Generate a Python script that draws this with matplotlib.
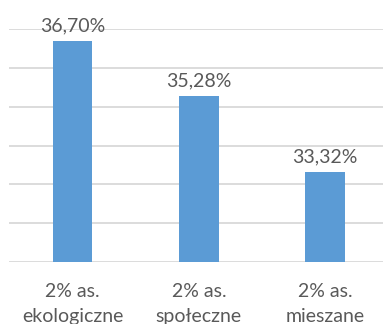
import matplotlib.pyplot as plt
import numpy as np

categories = ["2% as.\nekologiczne", "2% as.\nspołeczne", "2% as.\nmieszane"]
values = [36.70, 35.28, 33.32]
value_labels = ["36,70%", "35,28%", "33,32%"]

BAR = "#5b9bd5"
INK = "#595959"
GRID = "#d9d9d9"

plt.rcParams["font.family"] = ["Lato", "DejaVu Sans"]

fig = plt.figure(figsize=(3.83, 3.24), dpi=100)
ax = fig.add_axes([9.35 / 383, 62.3 / 324, 379 / 383, 232.4 / 324])

x = np.arange(len(values))
ax.bar(x, values, width=0.313, color=BAR, zorder=3)

for xi, v, lab in zip(x, values, value_labels):
    ax.annotate(lab, xy=(xi, v), xytext=(0, 5), textcoords="offset points",
                ha="center", va="bottom", fontsize=14, color=INK)

ax.set_xlim(-0.5, 2.5)
ax.set_ylim(31, 37)
ax.set_yticks(np.arange(31, 38, 1))
ax.yaxis.grid(True, color=GRID, lw=1.3, zorder=0)
ax.tick_params(axis="y", left=False, labelleft=False)
ax.set_xticks(x)
ax.set_xticklabels(categories, fontsize=14, color=INK, linespacing=1.55)
ax.tick_params(axis="x", length=0, pad=15.5)
for s in ax.spines.values():
    s.set_visible(False)

fig.savefig("out.png", dpi=100, facecolor="white")
